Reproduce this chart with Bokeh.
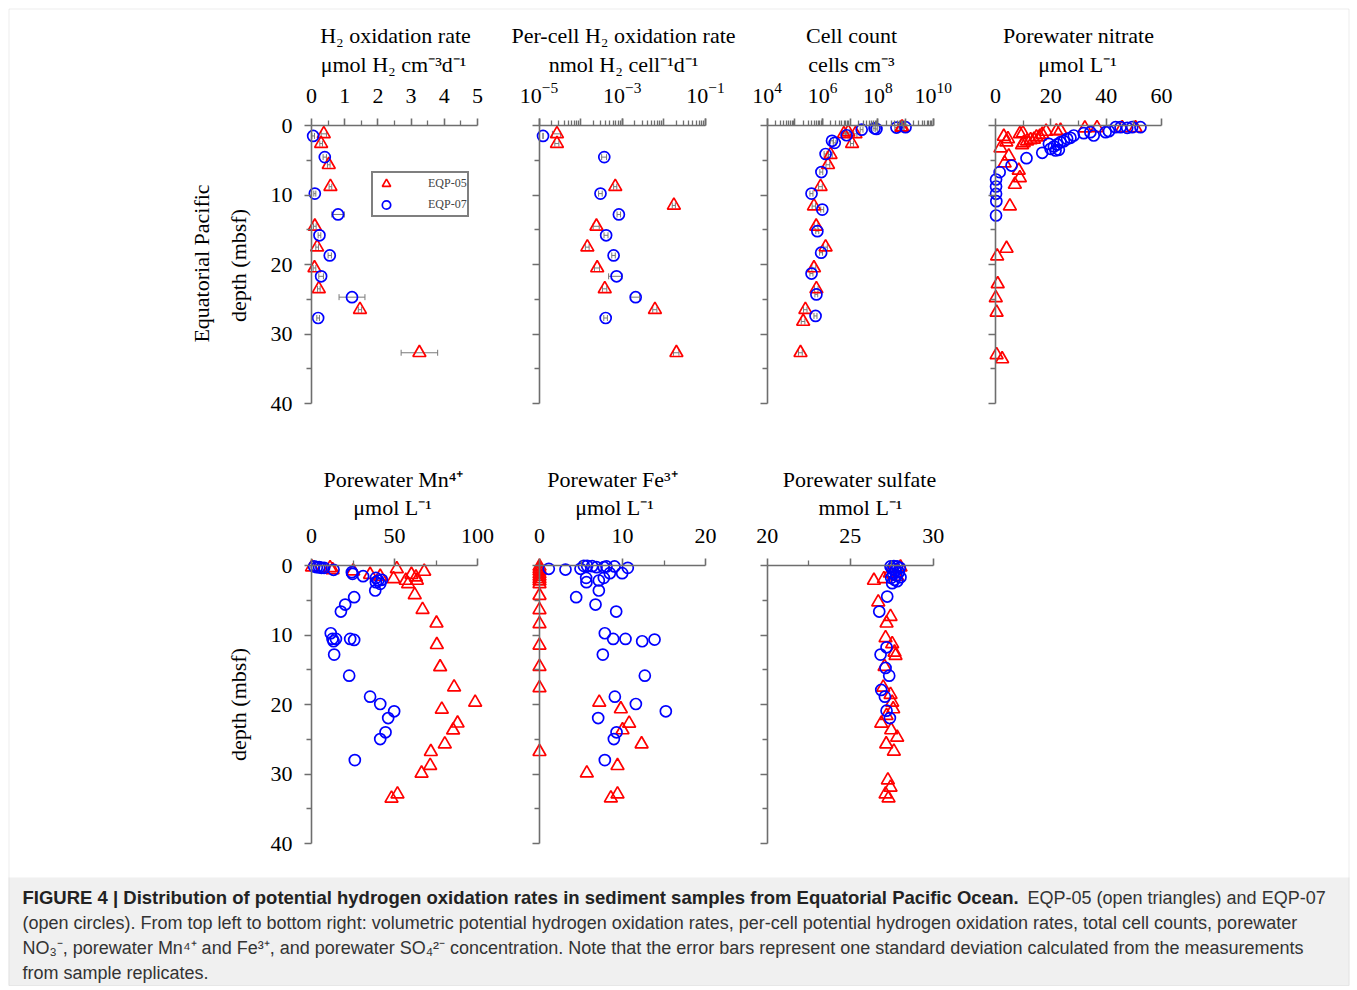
import math
from bokeh.plotting import figure
from bokeh.models import (Range1d, LinearAxis, LogAxis, LogScale, FixedTicker, Whisker, TeeHead,
                          Legend, LegendItem, BoxAnnotation, ColumnDataSource)
from bokeh.core.properties import value
from bokeh.embed import file_html
from bokeh.resources import INLINE

# ---------------- data ----------------
# H2 oxidation rate (umol H2 cm-3 d-1)
h2_dep05 = [1.2, 2.6, 5.65, 8.8, 14.5, 17.5, 20.5, 23.5, 26.5, 32.7]
h2_val05 = [0.37, 0.29, 0.52, 0.57, 0.10, 0.17, 0.09, 0.22, 1.46, 3.25]
h2_err05 = [0.08, 0.04, 0.04, 0.04, 0.04, 0.04, 0.04, 0.04, 0.05, 0.55]
h2_dep07 = [1.5, 4.55, 9.8, 12.8, 15.8, 18.7, 21.7, 24.7, 27.7]
h2_val07 = [0.05, 0.40, 0.10, 0.80, 0.24, 0.55, 0.29, 1.22, 0.20]
h2_err07 = [0.04, 0.05, 0.03, 0.19, 0.04, 0.05, 0.07, 0.39, 0.04]

# per-cell H2 oxidation rate (nmol H2 cell-1 d-1)
pc_dep05 = [1.2, 2.6, 8.8, 11.5, 14.5, 17.5, 20.5, 23.5, 26.5, 32.7]
pc_val05 = [2.7e-5, 2.7e-5, 6.8e-4, 1.74e-2, 2.4e-4, 1.45e-4, 2.5e-4, 3.8e-4, 6.1e-3, 2.0e-2]
pc_err05 = [0.6e-5, 0.3e-5, 0.6e-4, 0.15e-2, 0.4e-4, 0.15e-4, 0.35e-4, 0.45e-4, 0.7e-3, 0.3e-2]
pc_dep07 = [1.5, 4.55, 9.8, 12.8, 15.8, 18.7, 21.7, 24.7, 27.7]
pc_val07 = [1.25e-5, 3.7e-4, 3.0e-4, 8.3e-4, 4.1e-4, 6.2e-4, 7.3e-4, 2.1e-3, 4.0e-4]
pc_err07 = [0.0, 0.5e-4, 0.3e-4, 0.8e-4, 0.45e-4, 0.6e-4, 2.6e-4, 0.5e-3, 0.4e-4]

# cell count (cells cm-3)
cc_dep05 = [0.24, 0.30, 0.96, 1.2, 1.2, 2.6, 4.2, 5.65, 8.8, 11.6, 14.5, 17.5, 20.5, 23.5, 26.5, 28.2, 32.7]
cc_val05 = [7.6e8, 7.1e8, 8.5e6, 5.9e6, 1.55e7, 1.17e7, 1.95e6, 1.58e6, 8.5e5, 4.9e5, 5.9e5, 1.29e6,
            4.9e5, 6.0e5, 2.4e5, 2.0e5, 1.6e5]
cc_err05 = [1.2e8, 1.0e8, 1.2e6, 0.9e6, 2.0e6, 1.5e6, 3.0e5, 2.5e5, 1.3e5, 0.7e5, 0.9e5, 2.0e5,
            0.8e5, 0.9e5, 0.35e5, 0.3e5, 0.25e5]
cc_dep07 = [0.24, 0.3, 0.5, 0.4, 0.6, 1.4, 2.2, 2.5, 4.1, 6.7, 9.8, 12.1, 15.2, 18.3, 21.3, 24.3, 27.4]
cc_val07 = [1.0e9, 4.7e8, 8.9e7, 7.6e7, 2.6e7, 7.4e6, 2.2e6, 2.75e6, 1.29e6, 9.1e5, 4.0e5, 9.8e5,
            6.5e5, 8.9e5, 4.0e5, 6.0e5, 5.6e5]
cc_err07 = [1.2e8, 0.6e8, 1.0e7, 0.9e7, 0.3e7, 0.9e6, 0.25e6, 0.3e6, 1.5e5, 1.1e5, 0.5e5, 1.2e5,
            0.8e5, 1.1e5, 0.5e5, 0.7e5, 0.7e5]

# porewater nitrate (umol L-1)
no3_dep05 = [0.34, 0.34, 0.34, 0.38, 0.72, 0.82, 0.86, 1.10, 1.20, 1.29, 1.58, 1.58, 1.68, 1.92, 2.01, 2.06,
             2.25, 2.40, 2.49, 2.78, 3.26, 4.41, 5.42, 6.47, 7.53, 8.49, 11.6, 17.7, 18.8, 22.8, 24.8, 26.9,
             33.0, 33.6]
no3_val05 = [50.6, 45.8, 36.7, 32.3, 23.5, 22.0, 18.3, 9.9, 8.8, 16.9, 16.0, 3.0, 14.8, 4.5, 13.9, 12.7,
             11.4, 3.9, 10.2, 9.6, 1.8, 4.8, 3.3, 8.4, 8.8, 7.0, 5.2, 4.0, 0.6, 0.8, 0.1, 0.4, 0.4, 2.4]
no3_dep07 = [0.24, 0.24, 0.34, 0.24, 0.24, 0.82, 0.96, 0.96, 1.10, 1.44, 1.44, 1.77, 1.92, 2.25, 2.40, 2.64,
             2.73, 3.02, 3.36, 3.50, 3.60, 3.93, 4.70, 5.76, 6.71, 7.77, 8.78, 9.83, 10.89, 12.95]
no3_val07 = [52.4, 49.4, 47.6, 45.2, 43.4, 41.0, 39.8, 34.3, 31.9, 35.5, 28.3, 27.1, 25.9, 24.7, 23.5, 19.3,
             22.3, 21.1, 19.9, 22.9, 21.7, 16.9, 11.2, 5.8, 1.5, 0.2, 0.2, 0.2, 0.3, 0.2]

# porewater Mn4+ (umol L-1)
mn_dep05 = [0.24, 0.34, 0.62, 0.82, 1.30, 1.58, 0.48, 1.92, 2.16, 1.30, 1.68, 2.16, 2.64, 0.86, 4.23, 6.34,
            8.31, 11.4, 14.6, 17.5, 19.7, 20.7, 22.7, 23.7, 25.7, 26.8, 28.8, 29.9, 32.9, 33.5]
mn_val05 = [0.3, 11.2, 12.7, 25.1, 35.3, 41.4, 51.4, 49.4, 56.8, 60.2, 62.9, 63.5, 58.2, 67.9, 62.2, 66.9,
            75.3, 75.5, 77.5, 85.9, 98.6, 78.5, 88.0, 85.3, 80.3, 71.9, 71.5, 66.3, 51.8, 48.2]
mn_dep07 = [0.14, 0.24, 0.24, 0.34, 0.34, 0.62, 0.96, 1.20, 1.54, 1.78, 2.16, 2.06, 2.64, 2.40, 3.60, 4.56,
            5.62, 6.63, 9.75, 10.56, 10.56, 10.9, 10.56, 10.71, 12.82, 15.85, 18.87, 19.93, 20.98, 21.95,
            24.0, 24.97, 28.0]
mn_val07 = [1.6, 3.2, 4.6, 6.0, 7.6, 13.3, 24.3, 24.7, 31.1, 38.8, 40.2, 42.4, 41.4, 38.8, 38.4, 25.7,
            20.3, 17.7, 11.6, 12.65, 14.7, 13.3, 23.3, 25.7, 13.65, 22.7, 35.3, 41.4, 49.8, 46.2,
            44.6, 41.4, 26.1]

# porewater Fe3+ (umol L-1)
fe_dep05 = [0.14, 0.48, 0.82, 1.2, 1.58, 1.92, 2.26, 2.64, 4.32, 6.39, 8.4, 11.5, 14.55, 17.6, 26.8,
            19.69, 20.65, 22.71, 23.67, 25.69, 28.81, 29.87, 32.89, 33.47]
fe_val05 = [0.0, 0.0, 0.0, 0.0, 0.0, 0.0, 0.0, 0.0, 0.0, 0.0, 0.0, 0.0, 0.0, 0.0, 0.0,
            7.2, 9.8, 10.8, 10.0, 12.3, 9.4, 5.7, 9.4, 8.6]
fe_dep07 = [0.48, 0.58, 0.48, 0.05, 0.05, 0.1, 0.24, 0.24, 0.14, 0.14, 0.34, 1.10, 1.10, 1.78, 2.16, 1.78,
            2.40, 3.60, 4.56, 5.62, 6.63, 9.75, 10.56, 10.56, 10.9, 10.66, 12.82, 15.85, 18.87, 19.93,
            20.98, 21.95, 24.0, 24.97, 28.0]
fe_val07 = [1.12, 3.13, 4.94, 5.34, 5.74, 6.35, 6.87, 7.75, 8.07, 9.04, 10.64, 9.96, 8.47, 7.75, 7.15, 5.62,
            5.66, 7.15, 4.42, 6.75, 9.24, 7.87, 8.88, 10.36, 12.37, 13.86, 7.63, 12.69, 9.08, 11.61,
            15.22, 7.07, 9.28, 8.96, 7.87]

# porewater sulfate (mmol L-1)
so4_dep05 = [0.24, 1.58, 1.10, 1.92, 2.16, 5.28, 7.35, 8.31, 10.42, 11.28, 12.49, 12.97, 14.55, 17.53,
             18.58, 19.69, 20.65, 21.61, 22.71, 23.67, 24.73, 25.69, 26.75, 30.88, 31.93, 32.89, 33.47]
so4_val05 = [28.03, 27.83, 27.39, 27.03, 26.43, 26.69, 27.43, 27.19, 27.13, 27.53, 27.67, 27.73, 27.07,
             26.99, 27.43, 27.53, 27.59, 27.19, 26.87, 27.47, 27.83, 27.17, 27.63, 27.27, 27.43, 27.13, 27.31]
so4_dep07 = [0.14, 0.1, 0.14, 0.34, 0.48, 0.72, 0.96, 1.2, 1.44, 1.68, 1.78, 2.06, 2.26, 2.55, 4.47, 6.63,
             11.77, 12.82, 14.74, 15.85, 17.91, 18.87, 20.89, 21.95]
so4_val07 = [27.43, 27.63, 27.83, 27.99, 27.53, 27.73, 27.93, 27.59, 27.79, 28.03, 27.47, 27.67, 27.83,
             27.53, 27.23, 26.75, 27.19, 26.83, 27.13, 27.35, 26.87, 27.09, 27.19, 27.39]

# ticks
depth_ticks = [0, 10, 20, 30, 40]
depth_minor = [5, 15, 25, 35]
h2_ticks = [0, 1, 2, 3, 4, 5]
h2_minor = [0.5, 1.5, 2.5, 3.5, 4.5]
pc_ticks = [1e-5, 1e-4, 1e-3, 1e-2, 1e-1]
pc_labels = [1e-5, 1e-3, 1e-1]
pc_minor = [k * 10.0 ** n for n in range(-5, -1) for k in range(2, 10)]
cc_ticks = [1e4, 1e5, 1e6, 1e7, 1e8, 1e9, 1e10]
cc_labels = [1e4, 1e6, 1e8, 1e10]
cc_minor = [k * 10.0 ** n for n in range(4, 10) for k in range(2, 10)]
no3_ticks = [0, 20, 40, 60]
no3_minor = [10, 30, 50]
mn_ticks = [0, 50, 100]
mn_minor = [25, 75]
fe_ticks = [0, 10, 20]
fe_minor = [5, 15]
so4_ticks = [20, 25, 30]
so4_minor = [22.5, 27.5]

titles_top = ["H\u2082 oxidation rate", "Per-cell H\u2082 oxidation rate", "Cell count", "Porewater nitrate"]
units_top = ["\u03bcmol H\u2082 cm\u207b\u00b3d\u207b\u00b9", "nmol H\u2082 cell\u207b\u00b9d\u207b\u00b9",
             "cells cm\u207b\u00b3", "\u03bcmol L\u207b\u00b9"]
titles_bot = ["Porewater Mn\u2074\u207a", "Porewater Fe\u00b3\u207a", "Porewater sulfate"]
units_bot = ["\u03bcmol L\u207b\u00b9", "\u03bcmol L\u207b\u00b9", "mmol L\u207b\u00b9"]
ylabels = ["Equatorial Pacific", "depth (mbsf)", "depth (mbsf)"]
legend_labels = ["EQP-05", "EQP-07"]

cap_bold = ("FIGURE 4 | Distribution of potential hydrogen oxidation rates in sediment samples "
            "from Equatorial Pacific Ocean.")
cap_l1 = "EQP-05 (open triangles) and EQP-07"
cap_l2 = ("(open circles). From top left to bottom right: volumetric potential hydrogen oxidation rates, "
          "per-cell potential hydrogen oxidation rates, total cell counts, porewater")
cap_l3 = ("NO\u2083\u207b, porewater Mn\u2074\u207a and Fe\u00b3\u207a, and porewater SO\u2084\u00b2\u207b "
          "concentration. Note that the error bars represent one standard deviation calculated from the measurements")
cap_l4 = "from sample replicates."

# ---------------- layout / styling ----------------
GRAY = "#6e6e6e"
RED = "#ff0000"
BLUE = "#0000ff"
SERIF = "Liberation Serif"
SANS = "Liberation Sans"

W, H = 1357, 990
SX0, SX1 = 0, W      # screen x of frame left/right
SYB, SYT = H, 0      # screen y of frame bottom/top

p = figure(width=W, height=H, output_backend="svg", toolbar_location=None,
           x_range=Range1d(SX0, SX1), y_range=Range1d(SYB, SYT),
           x_axis_type=None, y_axis_type=None,
           min_border_left=0, min_border_right=0, min_border_top=0, min_border_bottom=0)
p.outline_line_color = None
p.background_fill_color = "white"
p.border_fill_color = "white"


def mk_range(d0, d1, s0, s1, S0, S1, log=False):
    if log:
        d0, d1 = math.log10(d0), math.log10(d1)
    k = (d1 - d0) / (s1 - s0)
    a = d0 + (S0 - s0) * k
    b = d0 + (S1 - s0) * k
    if log:
        a, b = 10 ** a, 10 ** b
    return Range1d(start=a, end=b)


p.extra_y_ranges = {
    "top": mk_range(0, 40, 125, 403, SYB, SYT),
    "bot": mk_range(0, 40, 565, 843, SYB, SYT),
}
p.extra_x_ranges = {
    "h2": mk_range(0, 5, 311, 477, SX0, SX1),
    "pc": mk_range(1e-5, 1e-1, 538.5, 705, SX0, SX1, log=True),
    "cc": mk_range(1e4, 1e10, 766.7, 932.7, SX0, SX1, log=True),
    "no3": mk_range(0, 60, 995, 1161, SX0, SX1),
    "mn": mk_range(0, 100, 311, 477, SX0, SX1),
    "fe": mk_range(0, 20, 539, 705, SX0, SX1),
    "so4": mk_range(20, 30, 766.7, 932.7, SX0, SX1),
}
p.extra_x_scales = {"pc": LogScale(), "cc": LogScale()}

AX = dict(axis_line_color=GRAY, axis_line_width=1.6,
          major_tick_line_color=GRAY, major_tick_line_width=1.6,
          minor_tick_line_color=GRAY, minor_tick_line_width=1.3,
          major_tick_in=0, major_tick_out=7, minor_tick_in=0, minor_tick_out=5,
          major_label_text_font=SERIF, major_label_text_font_size="22px",
          major_label_text_color="black", major_label_standoff=16)


def add_axes(xn, yn, lo, hi, ticks, minor, log=False, label_ticks=None, depth_labels=False):
    Cls = LogAxis if log else LinearAxis
    top = Cls(x_range_name=xn, y_range_name=yn, fixed_location=0, bounds=(lo, hi),
              ticker=FixedTicker(ticks=ticks, minor_ticks=minor), **AX)
    if label_ticks is not None:
        top.major_label_text_color = None
    p.add_layout(top, "above")
    if label_ticks is not None:
        lab = Cls(x_range_name=xn, y_range_name=yn, fixed_location=0, bounds=(lo, hi),
                  ticker=FixedTicker(ticks=label_ticks, minor_ticks=[]), **AX)
        lab.axis_line_color = None
        lab.minor_tick_line_color = None
        p.add_layout(lab, "above")
    left = LinearAxis(x_range_name=xn, y_range_name=yn, fixed_location=lo, bounds=(0, 40),
                      ticker=FixedTicker(ticks=depth_ticks, minor_ticks=depth_minor), **AX)
    left.major_label_standoff = 12
    if not depth_labels:
        left.major_label_text_color = None
    p.add_layout(left, "left")


def add_series(xn, yn, dep, val, marker, color, size, err=None):
    src = ColumnDataSource(dict(x=val, y=dep))
    if err is not None:
        src.data["lo"] = [v - e for v, e in zip(val, err)]
        src.data["hi"] = [v + e for v, e in zip(val, err)]
        w = Whisker(source=src, base="y", lower="lo", upper="hi", dimension="width",
                    x_range_name=xn, y_range_name=yn, line_color="#7a7a7a", line_width=1,
                    upper_head=TeeHead(size=6, line_color="#7a7a7a", line_width=1),
                    lower_head=TeeHead(size=6, line_color="#7a7a7a", line_width=1))
        p.add_layout(w)
    return p.scatter("x", "y", source=src, marker=marker, size=size, fill_color=None,
                     line_color=color, line_width=1.7, x_range_name=xn, y_range_name=yn)


# caption background + outer frame
p.add_layout(BoxAnnotation(left=8, right=1349, top=877, bottom=985, fill_color="#f0f0f0",
                           fill_alpha=1, line_color=None, level="underlay"))
p.add_layout(BoxAnnotation(left=8.5, right=1348.5, top=8.5, bottom=985, fill_color=None,
                           line_color="#c4c4c4", line_width=1, level="underlay"))

add_axes("h2", "top", 0, 5, h2_ticks, h2_minor, depth_labels=True)
add_axes("pc", "top", 1e-5, 1e-1, pc_ticks, pc_minor, log=True, label_ticks=pc_labels)
add_axes("cc", "top", 1e4, 1e10, cc_ticks, cc_minor, log=True, label_ticks=cc_labels)
add_axes("no3", "top", 0, 60, no3_ticks, no3_minor)
add_axes("mn", "bot", 0, 100, mn_ticks, mn_minor, depth_labels=True)
add_axes("fe", "bot", 0, 20, fe_ticks, fe_minor)
add_axes("so4", "bot", 20, 30, so4_ticks, so4_minor)

TS, CS = 13, 11   # triangle / circle sizes
r05 = add_series("h2", "top", h2_dep05, h2_val05, "triangle", RED, TS, h2_err05)
r07 = add_series("h2", "top", h2_dep07, h2_val07, "circle", BLUE, CS, h2_err07)
add_series("pc", "top", pc_dep05, pc_val05, "triangle", RED, TS, pc_err05)
add_series("pc", "top", pc_dep07, pc_val07, "circle", BLUE, CS, pc_err07)
add_series("cc", "top", cc_dep05, cc_val05, "triangle", RED, TS, cc_err05)
add_series("cc", "top", cc_dep07, cc_val07, "circle", BLUE, CS, cc_err07)
add_series("no3", "top", no3_dep05, no3_val05, "triangle", RED, TS)
add_series("no3", "top", no3_dep07, no3_val07, "circle", BLUE, CS)
add_series("mn", "bot", mn_dep05, mn_val05, "triangle", RED, TS)
add_series("mn", "bot", mn_dep07, mn_val07, "circle", BLUE, CS)
add_series("fe", "bot", fe_dep05, fe_val05, "triangle", RED, TS)
add_series("fe", "bot", fe_dep07, fe_val07, "circle", BLUE, CS)
add_series("so4", "bot", so4_dep05, so4_val05, "triangle", RED, TS)
add_series("so4", "bot", so4_dep07, so4_val07, "circle", BLUE, CS)

# titles / units (screen-coordinate layout)
TXT = dict(text_font=value(SERIF), text_font_size="22px", text_color="black",
           text_align="center", text_baseline="alphabetic")
p.text(x=[395, 623, 851, 1078], y=[35, 35, 35, 35], text=titles_top, **TXT)
p.text(x=[393, 623, 851, 1077], y=[64, 64, 64, 64], text=units_top, **TXT)
p.text(x=[393, 612, 859], y=[479, 479, 479], text=titles_bot, **TXT)
p.text(x=[392, 614, 860], y=[507, 507, 507], text=units_bot, **TXT)
p.text(x=[201, 238, 238], y=[263, 265, 704], text=ylabels, angle=math.pi / 2,
       text_font=value(SERIF), text_font_size="22px", text_color="black",
       text_align="center", text_baseline="middle")

# caption
p.text(x=[22], y=[897], text=[cap_bold], text_font=value(SANS), text_font_size="18.5px",
       text_font_style="bold", text_color="#222222", text_align="left", text_baseline="alphabetic")
p.text(x=[1027, 22, 22, 22], y=[897, 922, 947, 972], text=[cap_l1, cap_l2, cap_l3, cap_l4],
       text_font=value(SANS), text_font_size="18px", text_color="#333333",
       text_align="left", text_baseline="alphabetic")

legend = Legend(items=[LegendItem(label=legend_labels[0], renderers=[r05]),
                       LegendItem(label=legend_labels[1], renderers=[r07])],
                location=(371, SYB - 217), orientation="vertical",
                glyph_width=26, glyph_height=21, label_height=14, spacing=0, padding=0, margin=0,
                label_standoff=29, label_text_font=SERIF, label_text_font_size="12px",
                border_line_color="black", border_line_width=2,
                background_fill_color="white", background_fill_alpha=1)
p.add_layout(legend)

open("out.html", "w").write(file_html(p, INLINE))
